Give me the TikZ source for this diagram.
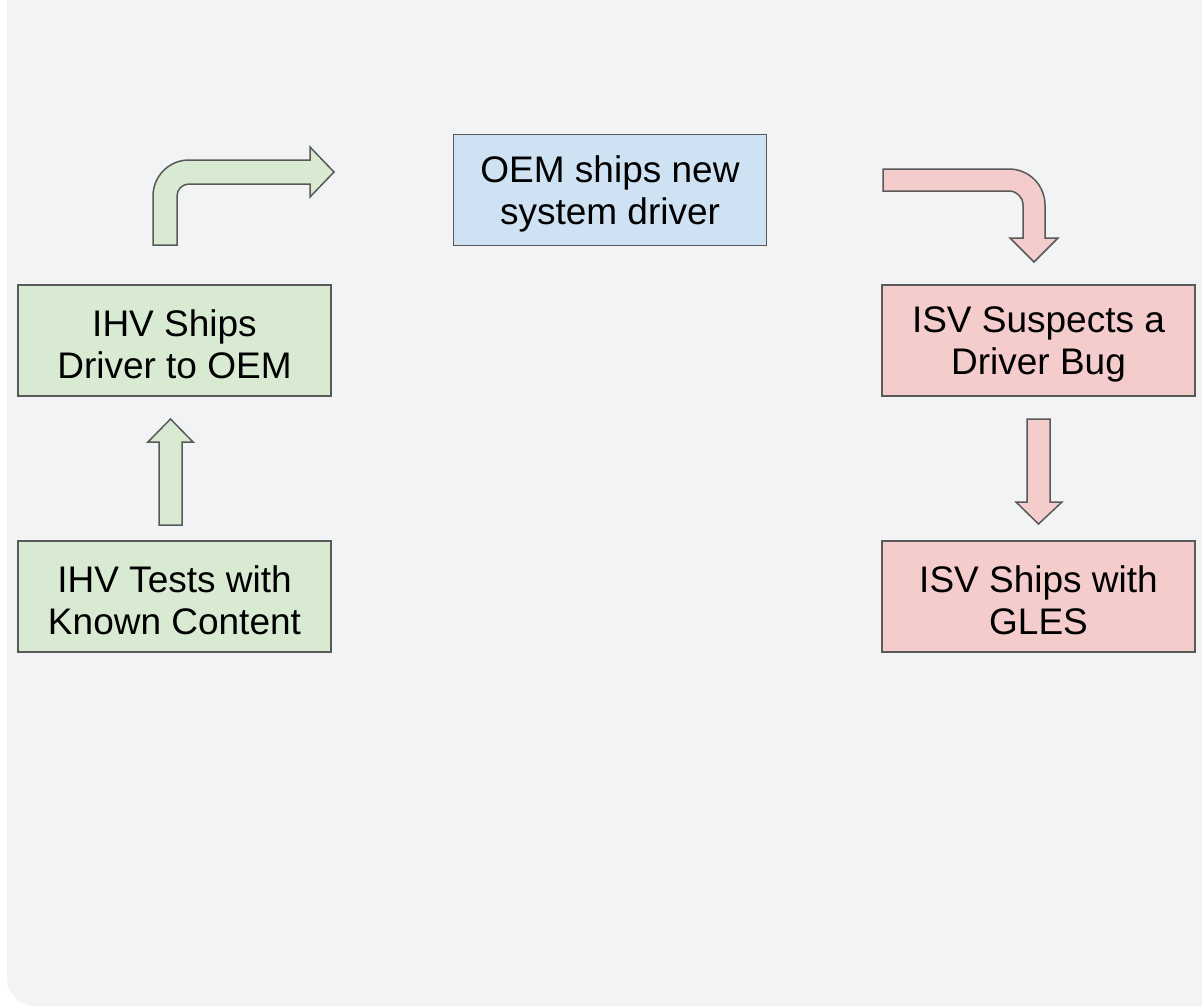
\documentclass[tikz,border=0pt]{standalone}
\usepackage{fontspec}
\setmainfont{Liberation Sans}
\definecolor{bgc}{HTML}{F1F3F4}
\definecolor{lineg}{HTML}{595959}
\definecolor{gfill}{HTML}{D9EAD3}
\definecolor{bfill}{HTML}{CFE2F3}
\definecolor{rfill}{HTML}{F4CCCC}
\tikzset{
  box/.style={draw=lineg, line width=1.5pt, minimum width=313pt, minimum height=111pt,
    inner sep=0pt},
  boxtext/.style={inner sep=0pt, align=center, font=\fontsize{37}{42}\selectfont},
  blockarrow/.style={draw=lineg, line width=1.5pt, line join=miter},
}
\begin{document}
\begin{tikzpicture}[x=1pt,y=-1pt]
\useasboundingbox (0,0) rectangle (1202,1007);
% background panel
\fill[bgc] (7,0) -- (1202,0) -- (1202,1006) -- (35,1006) arc[start angle=90, end angle=180, radius=28] -- cycle;

% boxes
\node[box, fill=gfill] (ihvship) at (174.5,340.5) {};
\node[boxtext] (ihvshipT) at ([yshift=-3.5pt]ihvship.center) {IHV Ships\\Driver to OEM};
\node[box, fill=gfill] (ihvtest) at (174.5,596.5) {};
\node[boxtext] (ihvtestT) at ([yshift=-3.5pt]ihvtest.center) {IHV Tests with\\Known Content};
\node[box, fill=bfill] (oem) at (610,190) {};
\node[boxtext] (oemT) at ([yshift=-3.5pt]oem.center) {OEM ships new\\system driver};
\node[box, fill=rfill] (isvsus) at (1038.5,340.5) {};
\node[boxtext] (isvsusT) at ([yshift=-3.5pt]isvsus.center) {ISV Suspects a\\Driver Bug};
\node[box, fill=rfill] (isvship) at (1038.5,596.5) {};
\node[boxtext] (isvshipT) at ([yshift=-3.5pt]isvship.center) {ISV Ships with\\GLES};

% up arrow (IHV Tests -> IHV Ships)
\draw[blockarrow, fill=gfill] (159,525) -- (159,442) -- (148,442) -- (170.5,419) -- (193,442) -- (182,442) -- (182,525) -- cycle;

% bent green arrow (IHV Ships -> OEM)
\draw[blockarrow, fill=gfill] (153,245) -- (153,196) arc[start angle=180, end angle=270, radius=36]
  -- (310,160) -- (310,147) -- (334,172) -- (310,197) -- (310,184) -- (189,184)
  arc[start angle=270, end angle=180, radius=12] -- (177,245) -- cycle;

% bent red arrow (OEM -> ISV Suspects)
\draw[blockarrow, fill=rfill] (883,169) -- (1009,169) arc[start angle=270, end angle=360, radius=36]
  -- (1045,238) -- (1058,238) -- (1034,262) -- (1010,238) -- (1023,238) -- (1023,205)
  arc[start angle=0, end angle=-90, radius=14] -- (883,191) -- cycle;

% down arrow (ISV Suspects -> ISV Ships)
\draw[blockarrow, fill=rfill] (1027,419) -- (1050,419) -- (1050,502) -- (1062,502) -- (1038.5,524) -- (1016,502) -- (1027,502) -- cycle;
\end{tikzpicture}
\end{document}
